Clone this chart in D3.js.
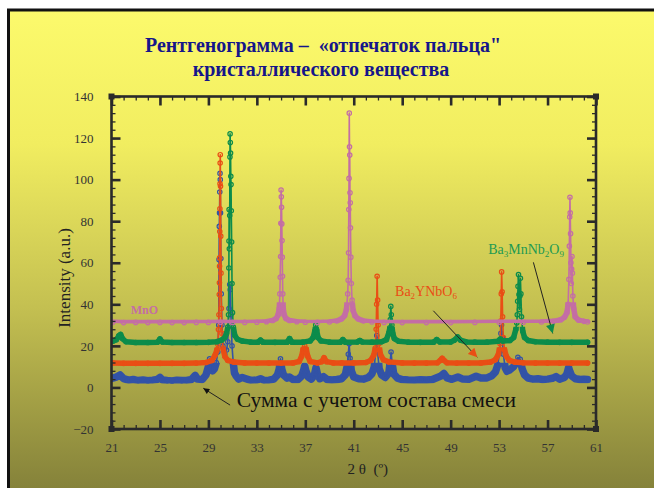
<!DOCTYPE html>
<html><head><meta charset="utf-8">
<script src="https://cdn.jsdelivr.net/npm/d3@7"></script>
<style>body{margin:0;background:#fff} svg{display:block}</style>
</head><body>
<svg id="chart" width="654" height="488"></svg>
<script>
// Tick labels of the two axes
const xTicks = [21, 25, 29, 33, 37, 41, 45, 49, 53, 57, 61];
const yTicks = [-20, 0, 20, 40, 60, 80, 100, 120, 140];

// Diffraction patterns: [2θ, intensity (a.u.)], each phase shifted up by its offset
const mnoData = [
  [21.1,31.4],[22,31.2],[23,31.3],[24,31.2],[25,31.3],[26,31.2],[27,31.2],[28,31.3],[29,31.3],[30,31.4],
  [31,31.3],[32,31.3],[33,31.4],[33.8,31.6],[34.3,32.2],[34.6,33.2],[34.75,34.8],[34.85,38],[34.9,45],
  [34.93,53],[34.96,63],[34.98,79],[35.0,95],[35.02,91.7],[35.04,86.7],[35.06,78.7],[35.08,70.7],[35.1,62.7],
  [35.12,53.5],[35.14,45],[35.18,38],[35.25,35],[35.4,33.2],[35.7,32.2],[36.3,31.6],[37,31.4],[38,31.3],
  [39,31.5],[39.6,32],[40.0,33],[40.25,34.6],[40.4,37.5],[40.5,45],[40.54,51.6],[40.57,64.8],[40.59,85.6],
  [40.61,100.6],[40.63,132],[40.65,115.8],[40.67,111.8],[40.69,93.7],[40.71,88.9],[40.73,76.8],[40.76,62.7],
  [40.8,50],[40.86,42],[40.95,37],[41.1,34.5],[41.35,33],[41.8,32],[42.5,31.5],[43.5,31.3],[45,31.2],
  [47,31.2],[49,31.2],[51,31.3],[53,31.4],[55,31.4],[56.5,31.5],[57.5,31.8],[58.1,32.6],[58.4,33.8],
  [58.6,36],[58.7,40],[58.76,52],[58.8,68],[58.83,82],[58.85,91.5],[58.87,84],[58.9,74],[58.93,60],
  [58.96,50],[58.99,57],[59.02,63],[59.05,55],[59.09,44],[59.16,38],[59.28,34],[59.55,32.4],[60,31.8],[60.3,31.5]
];

const ba3Data = [
  [21.1,22.2],[21.4,23],[21.6,24.8],[21.75,25.5],[21.9,23.5],[22.2,22],[23,21.6],[24,21.6],[24.8,21.8],
  [25,23.3],[25.2,21.9],[26,21.6],[27,21.6],[28,21.6],[29,21.7],[29.7,22],[30.1,22.8],[30.35,24],[30.5,26],
  [30.6,29],[30.66,35],[30.69,57.5],[30.7,70.5],[30.71,85.6],[30.73,66.7],[30.76,82.7],[30.78,110.9],
  [30.79,122],[30.81,117.9],[30.83,112.8],[30.85,101.6],[30.87,97.6],[30.89,85],[30.92,70],[30.95,50],
  [30.99,36],[31.06,29],[31.18,25],[31.4,23.2],[31.8,22.3],[32.5,21.8],[33.1,21.8],[33.3,22.8],[33.5,21.8],
  [34.5,21.7],[35.5,21.8],[35.7,23.5],[35.9,21.8],[36.8,21.8],[37.4,22.4],[37.65,24],[37.78,27],[37.86,30],
  [37.94,27.5],[38.05,24],[38.3,22.4],[39,21.8],[39.9,21.8],[40.1,23],[40.3,21.8],[41.3,21.9],[41.5,22.6],
  [41.7,21.9],[42.5,21.8],[43.3,22],[43.7,23],[43.9,26.3],[43.98,28.7],[44.02,32.7],[44.06,39],[44.1,35],
  [44.15,30],[44.22,26],[44.35,23.5],[44.7,22.2],[45.5,21.8],[46.5,21.7],[47.6,21.8],[47.85,23],[48.1,21.9],
  [49,21.9],[49.3,22.7],[49.58,24.3],[49.8,22.8],[50.3,21.9],[51,21.8],[52,21.8],[52.9,22.2],[53.1,23.3],
  [53.3,22.4],[53.9,22.6],[54.2,24],[54.38,27.9],[54.46,31],[54.5,35],[54.53,41.5],[54.56,48.7],[54.6,54.3],
  [54.64,44.7],[54.68,37.5],[54.72,44],[54.76,52.5],[54.8,45],[54.85,34],[54.95,27],[55.1,24],[55.4,22.6],
  [56,22],[57,21.8],[58,21.7],[59,21.7],[60.3,21.7]
];

const ba2yData = [
  [21.1,11.8],[22,11.6],[23,11.6],[24,11.6],[25,11.6],[26,11.6],[27,11.6],[28,11.7],[28.8,12],[29.3,13],
  [29.55,15.5],[29.7,18],[29.78,20.7],[29.83,27.9],[29.87,35],[29.9,44.7],[29.91,50.4],[29.92,58.3],
  [29.93,62.4],[29.94,75],[29.95,86],[29.96,98],[29.97,108],[29.98,112],[30.0,96.8],[30.02,72.8],
  [30.04,55],[30.07,38],[30.12,26],[30.2,19],[30.35,15],[30.6,13],[31.1,12.2],[32,11.8],[33,11.7],[34,11.7],
  [35,11.7],[36,11.8],[36.5,12.5],[36.7,15],[36.82,18.5],[36.95,20],[37.08,18.5],[37.2,15],[37.4,12.5],
  [38,11.8],[38.35,12.4],[38.55,14.3],[38.75,12.4],[39.3,11.8],[40,11.8],[41,11.8],[42,12],[42.4,13],
  [42.65,15.5],[42.78,19],[42.85,28],[42.89,40],[42.93,53.5],[42.97,42],[43.01,30],[43.08,21],[43.2,16],
  [43.45,13.3],[43.9,12.3],[45,11.8],[46,11.7],[47,11.7],[47.9,11.9],[48.15,13],[48.3,14],[48.45,13],
  [48.7,11.9],[49.5,11.7],[50.5,11.7],[51.5,11.8],[52.3,12.2],[52.7,13.4],[52.95,16],[53.08,21],[53.14,32],
  [53.18,45],[53.21,55.6],[53.25,46],[53.29,34],[53.35,24],[53.45,18],[53.6,15],[53.85,13],[54.3,12.2],
  [55,11.9],[56,11.7],[57,11.7],[58,11.7],[59,11.7],[60.3,11.7]
];

const sumData = [
  [21.1,4.5],[21.4,5],[21.7,6],[22,4.2],[22.4,3.5],[22.8,3.8],[23.2,3.3],[23.6,3.6],[24,3.2],[24.4,3.5],
  [24.8,3.9],[25,4.8],[25.2,3.6],[25.6,3.3],[26,3.1],[26.4,3.5],[26.8,3.3],[27.2,3.4],[27.6,3.8],[27.9,5.8],
  [28.1,4],[28.5,3.8],[28.8,6],[29.0,10],[29.1,13.8],[29.2,10],[29.35,8],[29.5,9],[29.65,12],[29.78,17],
  [29.85,30],[29.88,61.5],[29.9,77.5],[29.92,84],[29.94,94],[29.96,103],[29.98,100],[30.0,84],[30.03,62],
  [30.06,45],[30.12,30],[30.2,20],[30.35,16],[30.5,18],[30.6,22],[30.7,38],[30.76,49.5],[30.8,47],
  [30.86,35],[30.95,20],[31.05,12],[31.15,7],[31.3,5.4],[31.5,4],[31.8,4.8],[32.1,4.2],[32.5,3.4],[33,3.6],
  [33.3,4.2],[33.6,3.4],[34,3.5],[34.4,4],[34.7,6],[34.85,9],[34.95,13.8],[35.05,9],[35.2,6],[35.5,4.5],
  [35.7,5],[36,3.8],[36.4,3.8],[36.7,5.5],[36.85,8],[36.95,10.3],[37.05,8],[37.25,5],[37.5,4],[37.75,6],
  [37.88,9.5],[38,6.5],[38.2,4.2],[38.5,5.2],[38.8,3.8],[39.2,3.6],[39.6,3.8],[40.0,4.2],[40.3,6],
  [40.45,10],[40.55,16],[40.62,21],[40.7,14],[40.8,8],[41,5],[41.4,4.2],[41.8,4],[42.2,4.8],[42.5,6.5],
  [42.7,10],[42.82,18],[42.9,25],[42.97,17],[43.1,9],[43.3,6],[43.6,4.8],[43.9,7],[44.0,12],[44.08,17],
  [44.16,12],[44.3,6.5],[44.6,4.5],[45,3.8],[45.5,3.6],[46,3.5],[46.5,3.7],[47,3.6],[47.5,3.8],[47.9,4.8],
  [48.2,5.5],[48.45,6.7],[48.7,4.6],[49.1,3.9],[49.6,5],[50,4],[50.5,3.9],[51.1,5.4],[51.5,4.5],[52,4.6],
  [52.4,5.6],[52.7,7.5],[52.9,11],[53.05,18],[53.15,26],[53.2,30],[53.26,24],[53.35,16],[53.5,9.5],
  [53.65,7.8],[53.9,8.5],[54.2,10],[54.4,12],[54.55,14.5],[54.65,12],[54.75,13.5],[54.9,9],[55.1,6],
  [55.4,4.5],[55.8,4],[56.2,4.2],[56.6,3.8],[57,4],[57.4,4.4],[57.7,5.2],[58,4],[58.4,4.8],[58.6,6.5],
  [58.74,9.6],[58.85,7.5],[59,5.5],[59.3,4.2],[59.7,3.8],[60,3.9],[60.3,3.8]
];

const svg = d3.select("#chart");
const W = 654, H = 488;

// Slide background: yellow-to-olive gradient with a dark frame
const defs = svg.append("defs");
const grad = defs.append("linearGradient").attr("id", "bg").attr("x1", 0).attr("y1", 0).attr("x2", 0).attr("y2", 1);
[["0%", "#fcfa6c"], ["28%", "#f1ed60"], ["62%", "#c4c051"], ["100%", "#85823a"]]
  .forEach(([o, c]) => grad.append("stop").attr("offset", o).attr("stop-color", c));
svg.append("rect").attr("x", 8).attr("y", 10).attr("width", W - 8).attr("height", H - 10).attr("fill", "url(#bg)");
svg.append("line").attr("x1", 7).attr("x2", W).attr("y1", 10).attr("y2", 10).attr("stroke", "#111").attr("stroke-width", 3);
svg.append("line").attr("x1", 8.5).attr("x2", 8.5).attr("y1", 9).attr("y2", H).attr("stroke", "#111").attr("stroke-width", 3);

const serif = "Liberation Serif, Times New Roman, serif";
const axisColor = "#2a2a2a";

// Title
const title = svg.append("text").attr("text-anchor", "middle")
  .attr("font-family", serif).attr("font-weight", "bold")
  .attr("font-size", 20).attr("fill", "#15158a");
title.append("tspan").attr("x", 323).attr("y", 52).text("Рентгенограмма –\u00a0 «отпечаток пальца\"");
title.append("tspan").attr("x", 321).attr("y", 76).text("кристаллического вещества");

// Scales
const x = d3.scaleLinear().domain(d3.extent(xTicks)).range([111.5, 596]);
const y = d3.scaleLinear().domain(d3.extent(yTicks)).range([429, 96.5]);
const [x0, x1] = x.range(), [y0, y1] = [y.range()[1], y.range()[0]];

defs.append("clipPath").attr("id", "plot").append("rect")
  .attr("x", x0).attr("y", y0).attr("width", x1 - x0).attr("height", y1 - y0);

// Series drawing: a line with open-circle markers; the densely sampled
// baseline region is rendered as a thick band
const series = [
  { data: sumData,  color: "#3353a7", band: 7.5, id: "sum" },
  { data: ba2yData, color: "#e94e15", band: 5.5, id: "ba2y" },
  { data: ba3Data,  color: "#0c8c4b", band: 5.5, id: "ba3" },
  { data: mnoData,  color: "#c46ea5", band: 5.5, id: "mno" }
];
const line = d3.line().x(d => x(d[0])).y(d => y(d[1]));
const plotG = svg.append("g").attr("clip-path", "url(#plot)");

series.forEach(s => {
  const base = d3.median(s.data, d => d[1]);
  defs.append("clipPath").attr("id", "band-" + s.id).append("rect")
    .attr("x", x0).attr("width", x1 - x0)
    .attr("y", y(base + 6)).attr("height", y(base - 4) - y(base + 6));
  const g = plotG.append("g");
  g.append("path").datum(s.data).attr("d", line)
    .attr("clip-path", "url(#band-" + s.id + ")")
    .attr("fill", "none").attr("stroke", s.color).attr("stroke-width", s.band)
    .attr("stroke-linejoin", "round").attr("stroke-linecap", "round");
  g.append("path").datum(s.data).attr("d", line)
    .attr("fill", "none").attr("stroke", s.color).attr("stroke-width", 1.6)
    .attr("stroke-linejoin", "round");
  g.selectAll("circle").data(s.data).join("circle")
    .attr("cx", d => x(d[0])).attr("cy", d => y(d[1])).attr("r", 2.2)
    .attr("fill", "none").attr("stroke", s.color).attr("stroke-width", 1.2);
});

// Axes with inward ticks on all four sides
const xMinor = d3.range(xTicks[0], xTicks[xTicks.length - 1] + 1, 1);
const yMinor = d3.range(yTicks[0], yTicks[yTicks.length - 1] + 1, 4);

function styleAxis(g, major) {
  g.select(".domain").remove();
  g.selectAll(".tick line").attr("stroke", axisColor).attr("stroke-width", major ? 2.6 : 1.3);
  g.selectAll(".tick text").attr("fill", "#333").attr("font-family", serif).attr("font-size", 13);
}
const addAxis = (axis, tr, major, labels) => {
  const g = svg.append("g").attr("transform", tr).call(axis);
  styleAxis(g, major);
  if (!labels) g.selectAll(".tick text").remove();
  return g;
};
addAxis(d3.axisBottom(x).tickValues(xMinor).tickSize(-4), `translate(0,${y1})`, false, false);
addAxis(d3.axisTop(x).tickValues(xMinor).tickSize(-4), `translate(0,${y0})`, false, false);
addAxis(d3.axisLeft(y).tickValues(yMinor).tickSize(-4), `translate(${x0},0)`, false, false);
addAxis(d3.axisRight(y).tickValues(yMinor).tickSize(-4), `translate(${x1},0)`, false, false);
addAxis(d3.axisBottom(x).tickValues(xTicks).tickSize(-9).tickPadding(14), `translate(0,${y1})`, true, true);
addAxis(d3.axisTop(x).tickValues(xTicks).tickSize(-9), `translate(0,${y0})`, true, false);
addAxis(d3.axisLeft(y).tickValues(yTicks).tickSize(-9).tickPadding(18), `translate(${x0},0)`, true, true);
addAxis(d3.axisRight(y).tickValues(yTicks).tickSize(-9), `translate(${x1},0)`, true, false);

svg.append("rect").attr("x", x0).attr("y", y0).attr("width", x1 - x0).attr("height", y1 - y0)
  .attr("fill", "none").attr("stroke", axisColor).attr("stroke-width", 2.6);
[[x0, y0], [x1, y0], [x0, y1], [x1, y1]].forEach(([cx, cy]) =>
  svg.append("rect").attr("x", cx - 3).attr("y", cy - 3).attr("width", 6).attr("height", 6).attr("fill", axisColor));

// Axis titles
svg.append("text").attr("transform", "translate(70,278) rotate(-90)")
  .attr("text-anchor", "middle").attr("font-family", serif).attr("font-size", 17).attr("fill", "#222")
  .text("Intensity (a.u.)");
svg.append("text").attr("x", (x0 + x1) / 2 + 14).attr("y", 474).attr("text-anchor", "middle")
  .attr("font-family", serif).attr("font-size", 15).attr("fill", "#222")
  .text("2 θ\u00a0 (º)");

// Phase labels and pointer arrows
["#e94e15", "#0c8c4b", "#111"].forEach((c, i) => {
  defs.append("marker").attr("id", "arr" + i).attr("viewBox", "0 0 10 10")
    .attr("refX", 10).attr("refY", 5).attr("markerUnits", "userSpaceOnUse")
    .attr("markerWidth", i === 2 ? 8 : 11).attr("markerHeight", i === 2 ? 6 : 9).attr("orient", "auto")
    .append("path").attr("d", "M0,0L10,5L0,10Z").attr("fill", c);
});
const arrow = (a, b, m) => svg.append("line")
  .attr("x1", x(a[0])).attr("y1", y(a[1])).attr("x2", x(b[0])).attr("y2", y(b[1]))
  .attr("stroke", "#222").attr("stroke-width", 1).attr("marker-end", `url(#${m})`);
arrow([47.57, 36.9], [51.2, 14.5], "arr0");
arrow([55.83, 60.2], [57.43, 26], "arr1");
arrow([30.79, -8.5], [28.58, -0.4], "arr2");

svg.append("text").attr("x", x(22.59)).attr("y", y(35.3)).attr("font-family", serif)
  .attr("font-weight", "bold").attr("font-size", 12).attr("fill", "#c46ea5").text("MnO");

function chem(px, py, parts, color) {
  const t = svg.append("text").attr("x", x(px)).attr("y", y(py)).attr("font-family", serif)
    .attr("font-size", 14).attr("fill", color);
  let sub = false;
  parts.forEach(p => {
    const isSub = /^\d+$/.test(p);
    const ts = t.append("tspan").text(p);
    if (isSub) ts.attr("font-size", 9).attr("dy", sub ? 0 : 3);
    else if (sub) ts.attr("dy", -3);
    sub = isSub;
  });
}
chem(44.41, 44, ["Ba", "2", "YNbO", "6"], "#e94e15");
chem(52.1, 64.2, ["Ba", "3", "MnNb", "2", "O", "9"], "#1e9a52");

svg.append("text").attr("x", x(31.34)).attr("y", y(-9.4)).attr("font-family", serif)
  .attr("font-size", 21.5).attr("fill", "#111").text("Сумма с учетом состава смеси");
</script>
</body></html>
